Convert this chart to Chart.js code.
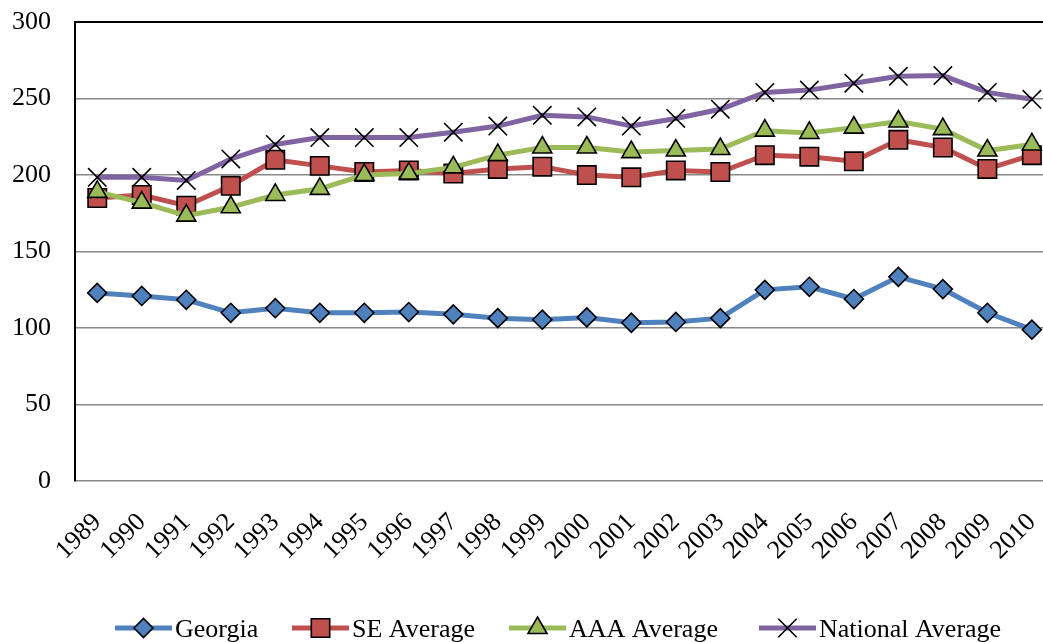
<!DOCTYPE html>
<html>
<head>
<meta charset="utf-8">
<script src="https://cdn.jsdelivr.net/npm/chart.js@4.4.1/dist/chart.umd.min.js"></script>
<style>
  html, body { margin: 0; padding: 0; background: #fff; }
  #wrap { width: 1043px; height: 642px; }
</style>
</head>
<body>
<div id="wrap"><canvas id="trendChart" width="1043" height="642"></canvas></div>
<script>
const years = [1989, 1990, 1991, 1992, 1993, 1994, 1995, 1996, 1997, 1998, 1999,
               2000, 2001, 2002, 2003, 2004, 2005, 2006, 2007, 2008, 2009, 2010];
const georgia = [123, 121, 118.5, 110, 113, 110, 110, 110.5, 109, 106.5, 105.5,
                 107, 103.5, 104, 106.5, 125, 127, 119, 133.5, 125.5, 110, 99];
const seAverage = [185, 187, 180, 193, 210, 206, 202, 203, 201, 204, 205.5,
                   200, 198.5, 203, 202, 213, 212, 209, 223, 218, 204, 213];
const aaaAverage = [189, 182, 173.5, 179, 187, 191, 200, 201, 205, 213, 218,
                    218, 215, 216, 217, 229, 227.5, 231, 235, 230, 216, 220];
const nationalAverage = [198.5, 198.5, 196.5, 210.5, 220, 224.5, 224.5, 224.5, 228, 232, 239,
                         238, 232, 237, 243, 254, 255.5, 260, 264.5, 265, 254, 249.5];
const yTicks = [0, 50, 100, 150, 200, 250, 300];

const serif = "'Liberation Serif', 'Times New Roman', serif";

function toPoints(values) {
    return values.map((v, i) => ({ x: years[i], y: v }));
}

const seriesDefs = [
    { label: 'Georgia', data: georgia, color: '#4F81BD', style: 'rectRot', radius: 9.5, order: 3 },
    { label: 'SE Average', data: seAverage, color: '#C0504D', style: 'rect', radius: 13, order: 2 },
    { label: 'AAA Average', data: aaaAverage, color: '#9BBB59', style: 'triangle', radius: 11, order: 1 },
    { label: 'National Average', data: nationalAverage, color: '#8064A2', style: 'crossRot', radius: 13, order: 0 }
];

// legend with line + marker, drawn under the axis labels
const lineLegend = {
    id: 'lineLegend',
    afterDraw(chart) {
        const ctx = chart.ctx;
        const y = 628;
        const starts = [115, 292, 509, 759];
        ctx.save();
        ctx.font = '26px ' + serif;
        ctx.textBaseline = 'middle';
        chart.data.datasets.forEach((ds, i) => {
            const x0 = starts[i];
            ctx.strokeStyle = ds.borderColor;
            ctx.lineWidth = 5;
            ctx.beginPath();
            ctx.moveTo(x0, y);
            ctx.lineTo(x0 + 57, y);
            ctx.stroke();
            ctx.fillStyle = ds.pointBackgroundColor;
            ctx.strokeStyle = '#000';
            ctx.lineWidth = 1.6;
            Chart.helpers.drawPoint(ctx, { pointStyle: ds.pointStyle, radius: ds.pointRadius, borderWidth: 1.6 }, x0 + 28.5, y);
            ctx.fillStyle = '#000';
            ctx.fillText(ds.label, x0 + 60, y + 2);
        });
        ctx.restore();
    }
};

const ctx = document.getElementById('trendChart').getContext('2d');
new Chart(ctx, {
    type: 'line',
    data: {
        datasets: seriesDefs.map(s => ({
            label: s.label,
            data: toPoints(s.data),
            borderColor: s.color,
            borderWidth: 5,
            pointStyle: s.style,
            pointRadius: s.radius,
            pointHoverRadius: s.radius,
            pointBackgroundColor: s.color,
            pointBorderColor: '#000',
            pointBorderWidth: 1.6,
            tension: 0,
            order: s.order
        }))
    },
    options: {
        responsive: false,
        animation: false,
        layout: { autoPadding: false, padding: { left: 13, right: 0, top: 22, bottom: 50 } },
        plugins: {
            legend: { display: false },
            tooltip: { enabled: false }
        },
        scales: {
            x: {
                type: 'linear',
                min: 1988.5,
                max: 2010.25,
                afterBuildTicks: scale => { scale.ticks = years.map(v => ({ value: v })); },
                afterFit: scale => { scale.paddingLeft = 0; scale.paddingRight = 0; },
                grid: { display: false, drawTicks: false },
                border: { display: false },
                ticks: {
                    autoSkip: false,
                    maxRotation: 45,
                    minRotation: 45,
                    padding: 26,
                    color: '#000',
                    font: { family: serif, size: 26 },
                    callback: value => String(value)
                }
            },
            y: {
                min: 0,
                max: 300,
                afterBuildTicks: scale => { scale.ticks = yTicks.map(v => ({ value: v })); },
                afterFit: scale => { scale.width = 62; scale.paddingTop = 0; scale.paddingBottom = 0; },
                grid: {
                    drawTicks: false,
                    color: c => (c.tick && c.tick.value === 300 ? '#000' : '#888'),
                    lineWidth: c => (c.tick && c.tick.value === 300 ? 2 : 1.5)
                },
                border: { display: true, color: '#000', width: 2 },
                ticks: {
                    padding: 24,
                    color: '#000',
                    font: { family: serif, size: 26 }
                }
            }
        }
    },
    plugins: [lineLegend]
});
</script>
</body>
</html>
